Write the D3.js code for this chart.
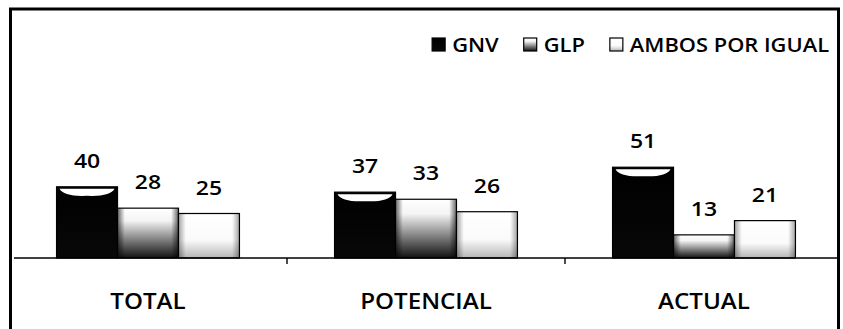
<!DOCTYPE html>
<html>
<head>
<meta charset="utf-8">
<script src="https://cdn.jsdelivr.net/npm/d3@7"></script>
<style>
  body { margin: 0; background: #fff; }
  svg { display: block; font-family: 'Open Sans', sans-serif; font-weight: 600; }
</style>
</head>
<body>
<div id="chart"></div>
<script>
var categories = ['TOTAL', 'POTENCIAL', 'ACTUAL'];
var series = ['GNV', 'GLP', 'AMBOS POR IGUAL'];
var gnvValues = [40, 37, 51];
var glpValues = [28, 33, 13];
var ambosValues = [25, 26, 21];

var width = 843, height = 329;
var values = [gnvValues, glpValues, ambosValues];
var stretch = 1.15; // the scanned lettering is wider than it is tall

var svg = d3.select('#chart').append('svg')
  .attr('width', width)
  .attr('height', height);

var defs = svg.append('defs');

var gGnv = defs.append('linearGradient').attr('id', 'fill-gnv')
  .attr('x1', 0).attr('y1', 0).attr('x2', 0).attr('y2', 1);
gGnv.append('stop').attr('offset', '0%').attr('stop-color', '#000');
gGnv.append('stop').attr('offset', '100%').attr('stop-color', '#080808');

// GLP: white on top fading into a dark base
var gGlp = defs.append('linearGradient').attr('id', 'fill-glp')
  .attr('x1', 0).attr('y1', 0).attr('x2', 0).attr('y2', 1);
gGlp.append('stop').attr('offset', '0%').attr('stop-color', '#fff');
gGlp.append('stop').attr('offset', '25%').attr('stop-color', '#f4f4f4');
gGlp.append('stop').attr('offset', '60%').attr('stop-color', '#8a8a8a');
gGlp.append('stop').attr('offset', '100%').attr('stop-color', '#111');

// AMBOS: white with a light grey base
var gAmb = defs.append('linearGradient').attr('id', 'fill-ambos')
  .attr('x1', 0).attr('y1', 0).attr('x2', 0).attr('y2', 1);
gAmb.append('stop').attr('offset', '0%').attr('stop-color', '#fff');
gAmb.append('stop').attr('offset', '60%').attr('stop-color', '#fafafa');
gAmb.append('stop').attr('offset', '100%').attr('stop-color', '#b5b5b5');

// darker side edges for the light bars
var gSide = defs.append('linearGradient').attr('id', 'side-shade')
  .attr('x1', 0).attr('y1', 0).attr('x2', 1).attr('y2', 0);
gSide.append('stop').attr('offset', '0%').attr('stop-color', '#000').attr('stop-opacity', 0.6);
gSide.append('stop').attr('offset', '12%').attr('stop-color', '#000').attr('stop-opacity', 0);
gSide.append('stop').attr('offset', '88%').attr('stop-color', '#000').attr('stop-opacity', 0);
gSide.append('stop').attr('offset', '100%').attr('stop-color', '#000').attr('stop-opacity', 0.6);

var fills = ['url(#fill-gnv)', 'url(#fill-glp)', 'url(#fill-ambos)'];

var x0 = d3.scaleBand().domain(categories).range([9, 843]);
var x1 = d3.scaleBand().domain(series).range([0, x0.bandwidth()])
  .paddingInner(0).paddingOuter(0.78);
var y = d3.scaleLinear().domain([0, 100]).range([258, 80]);

function place(x, yy) {
  return 'translate(' + x + ',' + yy + ') scale(' + stretch + ',1)';
}

var rows = [];
categories.forEach(function (c, i) {
  series.forEach(function (s, j) {
    rows.push({ cat: c, key: s, idx: j, value: values[j][i] });
  });
});

var bars = svg.append('g').selectAll('g')
  .data(rows)
  .enter().append('g')
  .attr('transform', d => 'translate(' + (x0(d.cat) + x1(d.key)) + ',0)');

bars.append('rect')
  .attr('x', 0)
  .attr('y', d => y(d.value))
  .attr('width', x1.bandwidth())
  .attr('height', d => y(0) - y(d.value))
  .attr('fill', d => fills[d.idx])
  .attr('stroke', '#000')
  .attr('stroke-width', 1.2);

bars.filter(d => d.idx > 0).append('rect')
  .attr('x', 0)
  .attr('y', d => y(d.value))
  .attr('width', x1.bandwidth())
  .attr('height', d => y(0) - y(d.value))
  .attr('fill', 'url(#side-shade)')
  .attr('opacity', d => d.idx === 1 ? 1 : 0.6);

// white bevel highlight on the dark bars
bars.filter(d => d.idx === 0).append('path')
  .attr('d', function (d) {
    var w = x1.bandwidth(), t = y(d.value) + 2;
    return 'M3,' + t + ' L' + (w - 3) + ',' + t +
      ' Q' + (w - 7) + ',' + (t + 8) + ' ' + (w / 2) + ',' + (t + 7) +
      ' Q7,' + (t + 8) + ' 3,' + t + ' Z';
  })
  .attr('fill', '#fff');

bars.append('text')
  .attr('transform', d => place(x1.bandwidth() / 2, y(d.value) - 19))
  .attr('text-anchor', 'middle')
  .attr('font-size', 20)
  .attr('fill', '#000')
  .text(d => d.value);

// category axis
var axis = svg.append('g');
axis.append('line')
  .attr('x1', 14).attr('x2', 837)
  .attr('y1', y(0)).attr('y2', y(0))
  .attr('stroke', '#000').attr('stroke-width', 1.6);
axis.selectAll('.tick')
  .data(categories.slice(1))
  .enter().append('line')
  .attr('x1', d => x0(d)).attr('x2', d => x0(d))
  .attr('y1', y(0)).attr('y2', y(0) + 6)
  .attr('stroke', '#000').attr('stroke-width', 1.4);
axis.selectAll('.cat')
  .data(categories)
  .enter().append('text')
  .attr('transform', d => place(x0(d) + x0.bandwidth() / 2, 309))
  .attr('text-anchor', 'middle')
  .attr('font-size', 21)
  .attr('fill', '#000')
  .text(d => d);

// legend, right aligned
var legend = svg.append('g');
var items = legend.selectAll('g').data(series).enter().append('g');
items.append('rect')
  .attr('x', 0).attr('y', -14)
  .attr('width', 13).attr('height', 13)
  .attr('fill', (d, i) => fills[i])
  .attr('stroke', '#000').attr('stroke-width', 1.2);
items.append('text')
  .attr('transform', place(20, 0))
  .attr('font-size', 19)
  .attr('fill', '#000')
  .text(d => d);
var lx = 0;
var widths = [];
items.each(function () {
  widths.push(d3.select(this).select('text').node().getComputedTextLength() * stretch + 20);
});
items.attr('transform', function (d, i) {
  var t = 'translate(' + lx + ',0)';
  lx += widths[i] + 25;
  return t;
});
var total = lx - 25;
legend.attr('transform', 'translate(' + (829 - total) + ',52)');

// frame
svg.append('path')
  .attr('d', 'M10.5,' + height + ' L10.5,9 L838.5,9 L838.5,' + height)
  .attr('fill', 'none')
  .attr('stroke', '#000')
  .attr('stroke-width', 3);
</script>
</body>
</html>
